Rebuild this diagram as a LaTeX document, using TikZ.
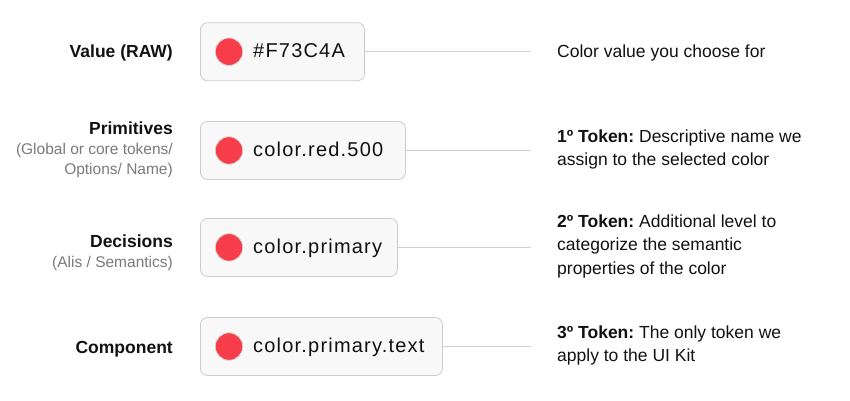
\documentclass[tikz,border=0pt]{standalone}
\usepackage{fontspec}
\setmainfont{Liberation Sans}
\newfontfamily\tokenfont[LetterSpace=6]{Liberation Sans}
\usetikzlibrary{positioning}
\frenchspacing

\definecolor{swatchred}{HTML}{F73C4A}
\definecolor{swatchring}{HTML}{D6D6D6}
\definecolor{boxfill}{HTML}{F8F8F8}
\definecolor{boxline}{HTML}{CCCCCC}
\definecolor{linkgray}{HTML}{D0D0D0}
\definecolor{subgray}{HTML}{7A7A7A}
\definecolor{ink}{HTML}{111111}

\begin{document}
\begin{tikzpicture}[x=1pt, y=-1pt,
    tokenbox/.style={draw=boxline, fill=boxfill, line width=0.8pt, rounded corners=7pt,
      minimum height=58pt, minimum width=#1, anchor=west, inner sep=0pt},
    swatch/.style={circle, fill=swatchred, draw=swatchring, line width=0.8pt,
      minimum size=27.5pt, inner sep=0pt},
    tokentext/.style={anchor=base west, inner sep=0pt, text=ink,
      font=\tokenfont\fontsize{20}{24}\selectfont},
    layer/.style={inner sep=0pt, align=right, text=ink,
      font=\fontsize{17.5}{20}\selectfont\bfseries},
    layersub/.style={inner sep=0pt, align=right, text=subgray,
      font=\fontsize{15.5}{20}\selectfont},
    note/.style={inner sep=0pt, align=left, text=ink,
      font=\fontsize{17.5}{23.5}\selectfont},
    link/.style={draw=linkgray, line width=1pt}]
  \useasboundingbox (0,0) rectangle (850,400);

  % token boxes
  \node[tokenbox=164pt] (raw) at (200,51.7) {};
  \node[tokenbox=205pt] (prim) at (200,150.5) {};
  \node[tokenbox=197pt] (dec) at (200,247.4) {};
  \node[tokenbox=242pt] (comp) at (200,346.5) {};

  % colour dots
  \node[swatch] (rawdot) at ([xshift=29pt]raw.west) {};
  \node[swatch] (primdot) at ([xshift=29pt]prim.west) {};
  \node[swatch] (decdot) at ([xshift=29pt]dec.west) {};
  \node[swatch] (compdot) at ([xshift=29pt]comp.west) {};

  % token names
  \node[tokentext] (rawtxt) at ([xshift=53pt, yshift=-6pt]raw.west) {\#F73C4A};
  \node[tokentext] (primtxt) at ([xshift=53pt, yshift=-6pt]prim.west) {color.red.500};
  \node[tokentext] (dectxt) at ([xshift=53pt, yshift=-6pt]dec.west) {color.primary};
  \node[tokentext] (comptxt) at ([xshift=53pt, yshift=-6pt]comp.west) {color.primary.text};

  % layer names
  \node[layer, anchor=base east] (rawname) at (173,57.5) {Value (RAW)};
  \node[layersub, anchor=north east] (primname) at (173,122) {{\color{ink}\fontsize{17.5}{20}\selectfont\bfseries Primitives}\\
    (Global or core tokens/\\ Options/ Name)};
  \node[layersub, anchor=north east] (decname) at (173,235) {{\color{ink}\fontsize{17.5}{20}\selectfont\bfseries Decisions}\\
    (Alis / Semantics)};
  \node[layer, anchor=base east] (compname) at (173,353) {Component};

  % descriptions
  \node[note, anchor=base west] (rawnote) at (557,57.3) {Color value you choose for};
  \node[note, anchor=north west] (primnote) at (557,129.2) {\textbf{1º Token:} Descriptive name we\\
    assign to the selected color};
  \node[note, anchor=north west] (decnote) at (557,214.2) {\textbf{2º Token:} Additional level to\\
    categorize the semantic\\ properties of the color};
  \node[note, anchor=north west] (compnote) at (557,325.2) {\textbf{3º Token:} The only token we\\
    apply to the UI Kit};

  % connectors
  \coordinate (rawend) at (531,51.7);
  \coordinate (primend) at (531,150.5);
  \coordinate (decend) at (531,247.4);
  \coordinate (compend) at (531,346.5);
  \draw[link] (raw.east) -- (rawend);
  \draw[link] (prim.east) -- (primend);
  \draw[link] (dec.east) -- (decend);
  \draw[link] (comp.east) -- (compend);
\end{tikzpicture}
\end{document}
